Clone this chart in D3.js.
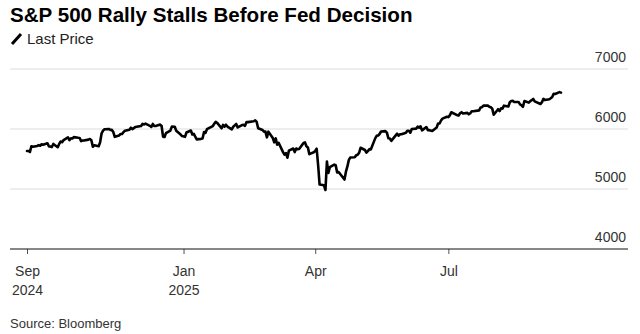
<!DOCTYPE html>
<html>
<head>
<meta charset="utf-8">
<script src="https://cdn.jsdelivr.net/npm/d3@7"></script>
<style>
  body { margin: 0; background: #fff; }
  svg { display: block; font-family: "Liberation Sans", Arial, sans-serif; }
</style>
</head>
<body>
<script>
// S&P 500 daily closes, one row per month
const monthKeys = ["2024-09","2024-10","2024-11","2024-12","2025-01","2025-02","2025-03",
                   "2025-04","2025-05","2025-06","2025-07","2025-08","2025-09"];
const tradeDays = [
  [16,17,18,19,20,23,24,25,26,27,30],
  [1,2,3,4,7,8,9,10,11,14,15,16,17,18,21,22,23,24,25,28,29,30,31],
  [1,4,5,6,7,8,11,12,13,14,15,18,19,20,21,22,25,26,27,29],
  [2,3,4,5,6,9,10,11,12,13,16,17,18,19,20,23,24,26,27,30,31],
  [2,3,6,7,8,10,13,14,15,16,17,21,22,23,24,27,28,29,30,31],
  [3,4,5,6,7,10,11,12,13,14,18,19,20,21,24,25,26,27,28],
  [3,4,5,6,7,10,11,12,13,14,17,18,19,20,21,24,25,26,27,28,31],
  [1,2,3,4,7,8,9,10,11,14,15,16,17,21,22,23,24,25,28,29,30],
  [1,2,5,6,7,8,9,12,13,14,15,16,19,20,21,22,23,27,28,29,30],
  [2,3,4,5,6,9,10,11,12,13,16,17,18,20,23,24,25,26,27,30],
  [1,2,3,7,8,9,10,11,14,15,16,17,18,21,22,23,24,25,28,29,30,31],
  [1,4,5,6,7,8,11,12,13,14,15,18,19,20,21,22,25,26,27,28,29],
  [2,3,4,5,8,9,10,11,12,15,16]
];
const closes = [
  [5633,5634,5618,5713,5703,5718,5732,5722,5745,5738,5762],
  [5709,5709,5699,5751,5696,5751,5792,5780,5815,5859,5815,5843,5841,5865,5853,5851,5797,5809,5808,5823,5832,5813,5705],
  [5728,5712,5782,5929,5973,5996,6001,5984,5985,5949,5870,5893,5917,5917,5949,5969,5987,6021,5999,6032],
  [6047,6050,6086,6075,6090,6053,6034,6084,6051,6051,6074,6050,5872,5867,5931,5974,6040,6037,5971,5907,5882],
  [5869,5942,5975,5909,5918,5827,5836,5843,5950,5937,5997,6049,6086,6119,6101,6012,6068,6039,6071,6041],
  [5994,6038,6061,6084,6026,6066,6068,6052,6115,6115,6129,6144,6118,6013,5983,5955,5956,5861,5955],
  [5850,5778,5843,5739,5770,5615,5572,5599,5522,5639,5675,5615,5675,5663,5667,5768,5777,5712,5693,5581,5612],
  [5633,5671,5396,5074,5062,4983,5457,5268,5363,5406,5397,5276,5283,5158,5288,5376,5485,5525,5529,5561,5569],
  [5604,5687,5650,5607,5631,5664,5660,5844,5886,5892,5917,5958,5964,5940,5845,5842,5802,5922,5889,5913,5912],
  [5936,5970,5971,5939,6000,6006,6039,6022,6045,5977,6033,5982,5981,5967,6025,6092,6092,6141,6173,6205],
  [6198,6227,6279,6230,6226,6263,6280,6259,6269,6244,6264,6297,6297,6306,6309,6359,6363,6389,6390,6371,6362,6339],
  [6238,6330,6299,6345,6340,6389,6374,6446,6466,6469,6450,6449,6411,6396,6370,6467,6439,6465,6481,6502,6460],
  [6416,6448,6502,6482,6495,6512,6532,6587,6584,6615,6606]
];
const yTicks = [4000, 5000, 6000, 7000];
const xTickDates = ["2024-09-16", "2025-01-01", "2025-04-01", "2025-07-01"];
const xTickLabels = [["Sep", "2024"], ["Jan", "2025"], ["Apr"], ["Jul"]];

const parse = d3.timeParse("%Y-%m-%d");
var data = [];
monthKeys.forEach(function(m, i) {
  tradeDays[i].forEach(function(d, j) {
    data.push({ date: parse(m + "-" + String(d).padStart(2, "0")), value: closes[i][j] });
  });
});

const width = 640, height = 334;
const left = 10, right = 628;

var svg = d3.select("body").append("svg").attr("width", width).attr("height", height);

var x = d3.scaleTime()
  .domain(d3.extent(data, d => d.date))
  .range([27, 561]);
var y = d3.scaleLinear().domain([4000, 7000]).range([249, 69]);

// title + legend
svg.append("text").attr("x", 10).attr("y", 22)
  .style("font-size", "20.6px").style("font-weight", "bold").attr("fill", "#000")
  .text("S&P 500 Rally Stalls Before Fed Decision");
svg.append("line").attr("x1", 12).attr("y1", 44).attr("x2", 21).attr("y2", 34)
  .attr("stroke", "#000").attr("stroke-width", 3);
svg.append("text").attr("x", 27).attr("y", 44)
  .style("font-size", "15px").attr("fill", "#222").text("Last Price");

// gridlines + y labels
var grid = svg.append("g");
yTicks.forEach(function(t) {
  if (t > 4000) {
    grid.append("line").attr("x1", left).attr("x2", right)
      .attr("y1", y(t)).attr("y2", y(t))
      .attr("stroke", "#dcdcdc").attr("stroke-width", 1);
  }
  grid.append("text").attr("x", 626).attr("y", y(t) - 7)
    .attr("text-anchor", "end").style("font-size", "14px").attr("fill", "#333")
    .text(t);
});

// x axis
var xAxis = d3.axisBottom(x)
  .tickValues(xTickDates.map(parse))
  .tickSize(5)
  .tickFormat("");
var gx = svg.append("g").attr("transform", "translate(0," + y(4000) + ")").call(xAxis);
gx.select(".domain").remove();
gx.selectAll(".tick line").attr("stroke", "#555");
svg.append("line").attr("x1", left).attr("x2", right)
  .attr("y1", y(4000)).attr("y2", y(4000))
  .attr("stroke", "#111").attr("stroke-width", 1.2);

gx.selectAll(".tick").each(function(d, i) {
  var t = d3.select(this).append("text")
    .attr("fill", "#333").style("font-size", "14px").attr("text-anchor", "middle");
  xTickLabels[i].forEach(function(s, k) {
    t.append("tspan").attr("x", 0).attr("y", 27 + k * 19).text(s);
  });
});

// price line
var line = d3.line().x(d => x(d.date)).y(d => y(d.value));
svg.append("path").datum(data)
  .attr("fill", "none").attr("stroke", "#000")
  .attr("stroke-width", 2.6).attr("stroke-linejoin", "round").attr("stroke-linecap", "round")
  .attr("d", line);

svg.append("text").attr("x", 10).attr("y", 328)
  .style("font-size", "13px").attr("fill", "#333").text("Source: Bloomberg");
</script>
</body>
</html>
